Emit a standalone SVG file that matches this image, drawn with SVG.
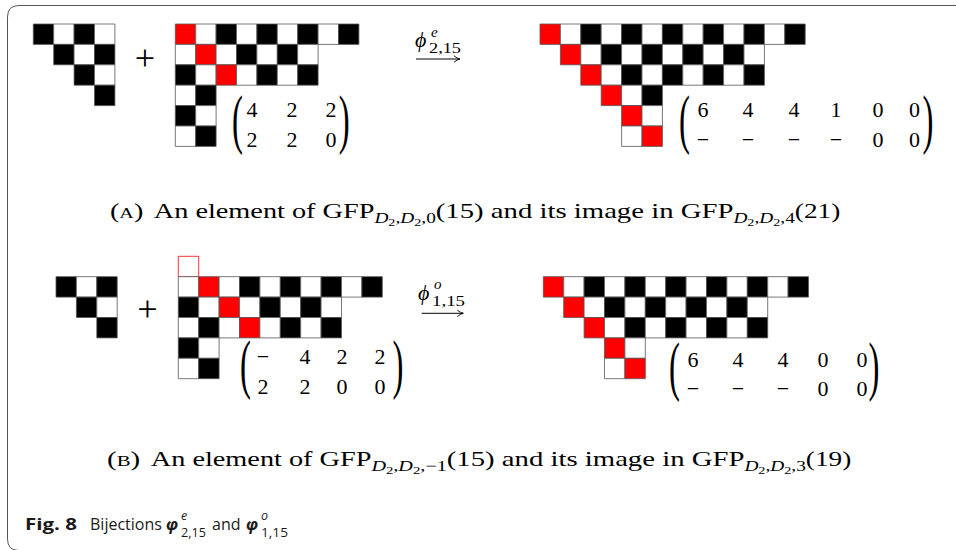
<svg xmlns="http://www.w3.org/2000/svg" width="956" height="550" viewBox="0 0 956 550">
<defs>
<style>
.cells rect{stroke:#555;stroke-width:0.8;vector-effect:non-scaling-stroke}
.b{fill:#000}.w{fill:#fff}.r{fill:#ff0000}.ro{fill:#fff;stroke:#ff0000 !important}
.m{font-family:"Liberation Serif","DejaVu Serif",serif;font-size:22px;fill:#000;text-anchor:middle}
.par{font-family:"Liberation Serif","DejaVu Serif",serif;font-size:65.6px;fill:#000}
.plus{font-family:"Liberation Serif","DejaVu Serif",serif;font-size:36px;fill:#000;text-anchor:middle}
.lab{font-family:"Liberation Serif","DejaVu Serif",serif;fill:#000}
.cap{font-family:"Liberation Serif","DejaVu Serif",serif;font-size:21px;fill:#000}
.capsub{font-family:"Liberation Serif","DejaVu Serif",serif;font-size:15px;fill:#000}
.fig{font-family:"Open Sans","Noto Sans",sans-serif;font-size:16px;fill:#1a1a1a}
.figs{font-family:"Open Sans","Noto Sans",sans-serif;font-size:12.5px;fill:#1a1a1a}
.arr{stroke:#000;stroke-width:1;fill:none}
</style>
<marker id="ah" viewBox="0 0 8 8" refX="7" refY="4" markerWidth="8" markerHeight="8" markerUnits="userSpaceOnUse" orient="auto">
<path d="M1,0.8 Q4,3.4 7,4 Q4,4.6 1,7.2" fill="none" stroke="#000" stroke-width="0.9"/>
</marker>
</defs>
<rect width="956" height="550" fill="#fff"/>
<path id="frame" d="M956,5.5 H19 Q7.5,5.5 7.5,17 V539 Q7.5,550.5 19,550.5 H956" fill="none" stroke="#555" stroke-width="1"/>

<g id="a-left-triangle" class="cells" transform="translate(33.3 24) scale(20.4)">
<rect class="b" x="0" y="0" width="1" height="1"/><rect class="w" x="1" y="0" width="1" height="1"/><rect class="b" x="2" y="0" width="1" height="1"/><rect class="w" x="3" y="0" width="1" height="1"/>
<rect class="b" x="1" y="1" width="1" height="1"/><rect class="w" x="2" y="1" width="1" height="1"/><rect class="b" x="3" y="1" width="1" height="1"/>
<rect class="b" x="2" y="2" width="1" height="1"/><rect class="w" x="3" y="2" width="1" height="1"/>
<rect class="b" x="3" y="3" width="1" height="1"/>
</g>
<g id="a-plus"><text class="plus" x="145" y="69.5">+</text></g>
<g id="a-left-diagram" class="cells" transform="translate(175.3 24) scale(20.4)">
<rect class="r" x="0" y="0" width="1" height="1"/><rect class="w" x="1" y="0" width="1" height="1"/><rect class="b" x="2" y="0" width="1" height="1"/><rect class="w" x="3" y="0" width="1" height="1"/><rect class="b" x="4" y="0" width="1" height="1"/><rect class="w" x="5" y="0" width="1" height="1"/><rect class="b" x="6" y="0" width="1" height="1"/><rect class="w" x="7" y="0" width="1" height="1"/><rect class="b" x="8" y="0" width="1" height="1"/>
<rect class="w" x="0" y="1" width="1" height="1"/><rect class="r" x="1" y="1" width="1" height="1"/><rect class="w" x="2" y="1" width="1" height="1"/><rect class="b" x="3" y="1" width="1" height="1"/><rect class="w" x="4" y="1" width="1" height="1"/><rect class="b" x="5" y="1" width="1" height="1"/><rect class="w" x="6" y="1" width="1" height="1"/>
<rect class="b" x="0" y="2" width="1" height="1"/><rect class="w" x="1" y="2" width="1" height="1"/><rect class="r" x="2" y="2" width="1" height="1"/><rect class="w" x="3" y="2" width="1" height="1"/><rect class="b" x="4" y="2" width="1" height="1"/><rect class="w" x="5" y="2" width="1" height="1"/><rect class="b" x="6" y="2" width="1" height="1"/>
<rect class="w" x="0" y="3" width="1" height="1"/><rect class="b" x="1" y="3" width="1" height="1"/>
<rect class="b" x="0" y="4" width="1" height="1"/><rect class="w" x="1" y="4" width="1" height="1"/>
<rect class="w" x="0" y="5" width="1" height="1"/><rect class="b" x="1" y="5" width="1" height="1"/>
</g>
<g id="a-left-matrix">
<text class="par" transform="translate(232 141.4) scale(0.5 1)">(</text>
<text class="par" transform="translate(338.8 141.4) scale(0.5 1)">)</text>
<text class="m" x="252" y="117">4</text><text class="m" x="292" y="117">2</text><text class="m" x="331" y="117">2</text>
<text class="m" x="252" y="147">2</text><text class="m" x="292" y="147">2</text><text class="m" x="331" y="147">0</text>
</g>

<g id="a-right-diagram" class="cells" transform="translate(540 24) scale(20.4)">
<rect class="r" x="0" y="0" width="1" height="1"/><rect class="w" x="1" y="0" width="1" height="1"/><rect class="b" x="2" y="0" width="1" height="1"/><rect class="w" x="3" y="0" width="1" height="1"/><rect class="b" x="4" y="0" width="1" height="1"/><rect class="w" x="5" y="0" width="1" height="1"/><rect class="b" x="6" y="0" width="1" height="1"/><rect class="w" x="7" y="0" width="1" height="1"/><rect class="b" x="8" y="0" width="1" height="1"/><rect class="w" x="9" y="0" width="1" height="1"/><rect class="b" x="10" y="0" width="1" height="1"/><rect class="w" x="11" y="0" width="1" height="1"/><rect class="b" x="12" y="0" width="1" height="1"/>
<rect class="r" x="1" y="1" width="1" height="1"/><rect class="w" x="2" y="1" width="1" height="1"/><rect class="b" x="3" y="1" width="1" height="1"/><rect class="w" x="4" y="1" width="1" height="1"/><rect class="b" x="5" y="1" width="1" height="1"/><rect class="w" x="6" y="1" width="1" height="1"/><rect class="b" x="7" y="1" width="1" height="1"/><rect class="w" x="8" y="1" width="1" height="1"/><rect class="b" x="9" y="1" width="1" height="1"/><rect class="w" x="10" y="1" width="1" height="1"/>
<rect class="r" x="2" y="2" width="1" height="1"/><rect class="w" x="3" y="2" width="1" height="1"/><rect class="b" x="4" y="2" width="1" height="1"/><rect class="w" x="5" y="2" width="1" height="1"/><rect class="b" x="6" y="2" width="1" height="1"/><rect class="w" x="7" y="2" width="1" height="1"/><rect class="b" x="8" y="2" width="1" height="1"/><rect class="w" x="9" y="2" width="1" height="1"/><rect class="b" x="10" y="2" width="1" height="1"/>
<rect class="r" x="3" y="3" width="1" height="1"/><rect class="w" x="4" y="3" width="1" height="1"/><rect class="b" x="5" y="3" width="1" height="1"/>
<rect class="r" x="4" y="4" width="1" height="1"/><rect class="w" x="5" y="4" width="1" height="1"/>
<rect class="w" x="4" y="5" width="1" height="1"/><rect class="r" x="5" y="5" width="1" height="1"/>
</g>
<g id="a-right-matrix">
<text class="par" transform="translate(679 141.4) scale(0.5 1)">(</text>
<text class="par" transform="translate(922.5 141.4) scale(0.5 1)">)</text>
<text class="m" x="703" y="117">6</text><text class="m" x="748" y="117">4</text><text class="m" x="794" y="117">4</text><text class="m" x="836" y="117">1</text><text class="m" x="878" y="117">0</text><text class="m" x="914.5" y="117">0</text>
<text class="m" x="703" y="147">−</text><text class="m" x="748" y="147">−</text><text class="m" x="794" y="147">−</text><text class="m" x="836" y="147">−</text><text class="m" x="878" y="147">0</text><text class="m" x="914.5" y="147">0</text>
</g>

<g id="b-left-triangle" class="cells" transform="translate(56 276.7) scale(20.4)">
<rect class="b" x="0" y="0" width="1" height="1"/><rect class="w" x="1" y="0" width="1" height="1"/><rect class="b" x="2" y="0" width="1" height="1"/>
<rect class="b" x="1" y="1" width="1" height="1"/><rect class="w" x="2" y="1" width="1" height="1"/>
<rect class="b" x="2" y="2" width="1" height="1"/>
</g>
<g id="b-plus"><text class="plus" x="147.3" y="321">+</text></g>
<g id="b-left-diagram" class="cells" transform="translate(178.3 276.7) scale(20.4)">
<rect class="ro" x="0" y="-1" width="1" height="1"/>
<rect class="w" x="0" y="0" width="1" height="1"/><rect class="r" x="1" y="0" width="1" height="1"/><rect class="w" x="2" y="0" width="1" height="1"/><rect class="b" x="3" y="0" width="1" height="1"/><rect class="w" x="4" y="0" width="1" height="1"/><rect class="b" x="5" y="0" width="1" height="1"/><rect class="w" x="6" y="0" width="1" height="1"/><rect class="b" x="7" y="0" width="1" height="1"/><rect class="w" x="8" y="0" width="1" height="1"/><rect class="b" x="9" y="0" width="1" height="1"/>
<rect class="b" x="0" y="1" width="1" height="1"/><rect class="w" x="1" y="1" width="1" height="1"/><rect class="r" x="2" y="1" width="1" height="1"/><rect class="w" x="3" y="1" width="1" height="1"/><rect class="b" x="4" y="1" width="1" height="1"/><rect class="w" x="5" y="1" width="1" height="1"/><rect class="b" x="6" y="1" width="1" height="1"/><rect class="w" x="7" y="1" width="1" height="1"/>
<rect class="w" x="0" y="2" width="1" height="1"/><rect class="b" x="1" y="2" width="1" height="1"/><rect class="w" x="2" y="2" width="1" height="1"/><rect class="r" x="3" y="2" width="1" height="1"/><rect class="w" x="4" y="2" width="1" height="1"/><rect class="b" x="5" y="2" width="1" height="1"/><rect class="w" x="6" y="2" width="1" height="1"/><rect class="b" x="7" y="2" width="1" height="1"/>
<rect class="b" x="0" y="3" width="1" height="1"/><rect class="w" x="1" y="3" width="1" height="1"/>
<rect class="w" x="0" y="4" width="1" height="1"/><rect class="b" x="1" y="4" width="1" height="1"/>
</g>
<g id="b-left-matrix">
<text class="par" transform="translate(240 386.4) scale(0.5 1)">(</text>
<text class="par" transform="translate(392.5 386.4) scale(0.5 1)">)</text>
<text class="m" x="263" y="364">−</text><text class="m" x="305" y="364">4</text><text class="m" x="342" y="364">2</text><text class="m" x="380" y="364">2</text>
<text class="m" x="263" y="393.5">2</text><text class="m" x="305" y="393.5">2</text><text class="m" x="342" y="393.5">0</text><text class="m" x="380" y="393.5">0</text>
</g>

<g id="b-right-diagram" class="cells" transform="translate(543.3 276.7) scale(20.4)">
<rect class="r" x="0" y="0" width="1" height="1"/><rect class="w" x="1" y="0" width="1" height="1"/><rect class="b" x="2" y="0" width="1" height="1"/><rect class="w" x="3" y="0" width="1" height="1"/><rect class="b" x="4" y="0" width="1" height="1"/><rect class="w" x="5" y="0" width="1" height="1"/><rect class="b" x="6" y="0" width="1" height="1"/><rect class="w" x="7" y="0" width="1" height="1"/><rect class="b" x="8" y="0" width="1" height="1"/><rect class="w" x="9" y="0" width="1" height="1"/><rect class="b" x="10" y="0" width="1" height="1"/><rect class="w" x="11" y="0" width="1" height="1"/><rect class="b" x="12" y="0" width="1" height="1"/>
<rect class="r" x="1" y="1" width="1" height="1"/><rect class="w" x="2" y="1" width="1" height="1"/><rect class="b" x="3" y="1" width="1" height="1"/><rect class="w" x="4" y="1" width="1" height="1"/><rect class="b" x="5" y="1" width="1" height="1"/><rect class="w" x="6" y="1" width="1" height="1"/><rect class="b" x="7" y="1" width="1" height="1"/><rect class="w" x="8" y="1" width="1" height="1"/><rect class="b" x="9" y="1" width="1" height="1"/><rect class="w" x="10" y="1" width="1" height="1"/>
<rect class="r" x="2" y="2" width="1" height="1"/><rect class="w" x="3" y="2" width="1" height="1"/><rect class="b" x="4" y="2" width="1" height="1"/><rect class="w" x="5" y="2" width="1" height="1"/><rect class="b" x="6" y="2" width="1" height="1"/><rect class="w" x="7" y="2" width="1" height="1"/><rect class="b" x="8" y="2" width="1" height="1"/><rect class="w" x="9" y="2" width="1" height="1"/><rect class="b" x="10" y="2" width="1" height="1"/>
<rect class="r" x="3" y="3" width="1" height="1"/><rect class="w" x="4" y="3" width="1" height="1"/>
<rect class="w" x="3" y="4" width="1" height="1"/><rect class="r" x="4" y="4" width="1" height="1"/>
</g>
<g id="b-right-matrix">
<text class="par" transform="translate(669 388.4) scale(0.5 1)">(</text>
<text class="par" transform="translate(868.5 388.4) scale(0.5 1)">)</text>
<text class="m" x="693" y="367">6</text><text class="m" x="738" y="367">4</text><text class="m" x="783" y="367">4</text><text class="m" x="823" y="367">0</text><text class="m" x="862" y="367">0</text>
<text class="m" x="693" y="395.5">−</text><text class="m" x="738" y="395.5">−</text><text class="m" x="783" y="395.5">−</text><text class="m" x="823" y="395.5">0</text><text class="m" x="862" y="395.5">0</text>
</g>

<g id="connectors">
<g id="map-a">
<line class="arr" x1="416" y1="59" x2="460" y2="59" marker-end="url(#ah)"/>
<text class="lab" x="415" y="47" font-size="22" font-style="italic">ϕ</text>
<text class="lab" x="431" y="36.5" font-size="15" font-style="italic">e</text>
<text class="lab" x="429" y="53" font-size="15" textLength="32" lengthAdjust="spacingAndGlyphs">2,15</text>
</g>
<g id="map-b">
<line class="arr" x1="421.7" y1="313.3" x2="463.3" y2="313.3" marker-end="url(#ah)"/>
<text class="lab" x="418" y="299.5" font-size="22" font-style="italic">ϕ</text>
<text class="lab" x="434" y="289" font-size="15" font-style="italic">o</text>
<text class="lab" x="432" y="305.5" font-size="15" textLength="33" lengthAdjust="spacingAndGlyphs">1,15</text>
</g>
</g>

<g id="caption-a">
<text class="cap" x="110" y="218" textLength="33.3" lengthAdjust="spacingAndGlyphs">(<tspan font-size="15">A</tspan>)</text>
<text class="cap" x="153.8" y="218" textLength="220.6" lengthAdjust="spacingAndGlyphs">An element of GFP</text>
<text class="capsub" x="374.4" y="223" textLength="61.4" lengthAdjust="spacingAndGlyphs"><tspan font-style="italic">D</tspan><tspan font-size="11" dy="3">2</tspan><tspan dy="-3">,</tspan><tspan font-style="italic">D</tspan><tspan font-size="11" dy="3">2</tspan><tspan dy="-3">,0</tspan></text>
<text class="cap" x="435.8" y="218" textLength="297.6" lengthAdjust="spacingAndGlyphs">(15) and its image in GFP</text>
<text class="capsub" x="733.4" y="223" textLength="61.4" lengthAdjust="spacingAndGlyphs"><tspan font-style="italic">D</tspan><tspan font-size="11" dy="3">2</tspan><tspan dy="-3">,</tspan><tspan font-style="italic">D</tspan><tspan font-size="11" dy="3">2</tspan><tspan dy="-3">,4</tspan></text>
<text class="cap" x="794.8" y="218" textLength="45.5" lengthAdjust="spacingAndGlyphs">(21)</text>
</g>

<g id="caption-b">
<text class="cap" x="107" y="466" textLength="33.3" lengthAdjust="spacingAndGlyphs">(<tspan font-size="15">B</tspan>)</text>
<text class="cap" x="150.8" y="466" textLength="220.6" lengthAdjust="spacingAndGlyphs">An element of GFP</text>
<text class="capsub" x="371.4" y="471" textLength="75.4" lengthAdjust="spacingAndGlyphs"><tspan font-style="italic">D</tspan><tspan font-size="11" dy="3">2</tspan><tspan dy="-3">,</tspan><tspan font-style="italic">D</tspan><tspan font-size="11" dy="3">2</tspan><tspan dy="-3">,−1</tspan></text>
<text class="cap" x="446.8" y="466" textLength="297.6" lengthAdjust="spacingAndGlyphs">(15) and its image in GFP</text>
<text class="capsub" x="744.4" y="471" textLength="61.4" lengthAdjust="spacingAndGlyphs"><tspan font-style="italic">D</tspan><tspan font-size="11" dy="3">2</tspan><tspan dy="-3">,</tspan><tspan font-style="italic">D</tspan><tspan font-size="11" dy="3">2</tspan><tspan dy="-3">,3</tspan></text>
<text class="cap" x="805.8" y="466" textLength="45.5" lengthAdjust="spacingAndGlyphs">(19)</text>
</g>

<g id="figure-caption">
<text class="fig" x="25" y="530" font-weight="700" font-size="18" textLength="52" lengthAdjust="spacingAndGlyphs">Fig. 8</text>
<text class="fig" x="90" y="530">Bijections</text>
<text class="fig" x="166" y="530" font-weight="700" font-style="italic">φ</text>
<text class="figs" x="181" y="520" font-style="italic">e</text>
<text class="figs" x="181" y="537" textLength="25" lengthAdjust="spacingAndGlyphs">2,15</text>
<text class="fig" x="212" y="530">and</text>
<text class="fig" x="246" y="530" font-weight="700" font-style="italic">φ</text>
<text class="figs" x="261" y="520" font-style="italic">o</text>
<text class="figs" x="261" y="537" textLength="27" lengthAdjust="spacingAndGlyphs">1,15</text>
</g>
</svg>
